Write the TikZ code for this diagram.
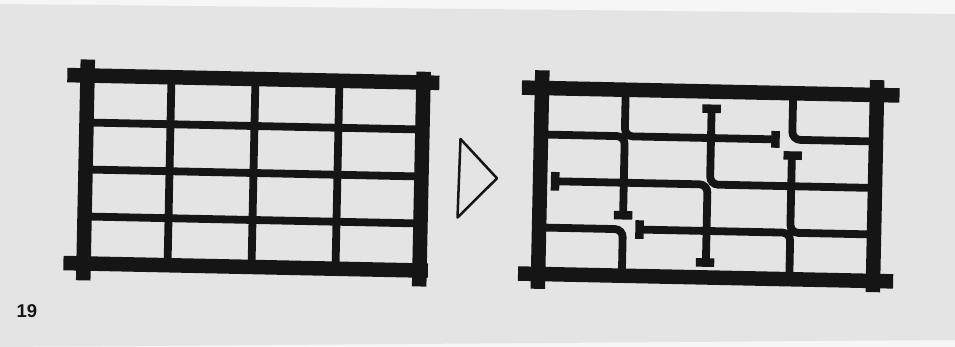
\documentclass[tikz,border=0pt]{standalone}
\usepackage{fontspec}
\setmainfont{Liberation Sans}
\definecolor{paper}{HTML}{E4E4E4}
\definecolor{margin}{HTML}{F6F6F6}
\definecolor{ink}{HTML}{151515}
\tikzset{
  frame/.style={ink, line width=14.5pt},
  bar/.style={ink, line width=7.8pt, rounded corners=8pt},
  capbar/.style={ink, line width=8.5pt},
}
\begin{document}
\begin{tikzpicture}[x=1pt,y=-1pt]
\useasboundingbox (0,0) rectangle (955,347);
\fill[margin] (0,0) rectangle (955,347);
\fill[paper] (0,4) -- (955,14) -- (955,340) -- (0,347) -- cycle;

% left grid
\begin{scope}[shift={(87.5,75.5)}, rotate=-1.2, x={(84pt,0pt)}, y={(0pt,-47pt)}]
  \foreach \i in {1,2,3} {
    \draw[bar] (\i,0) -- (\i,4);
    \draw[bar] (0,\i) -- (4,\i);
  }
  \draw[frame] (-0.24,0) -- (4.19,0);
  \draw[frame] (-0.24,4) -- (4.1,4);
  \draw[frame] (0,-0.34) -- (0,4.36);
  \draw[frame] (4,-0.23) -- (4,4.34);
\end{scope}

% arrow
\draw[ink, line width=2.5pt, line join=round] (460.5,139) -- (497,178.3) -- (457.5,217.5) -- cycle;

% right grid
\begin{scope}[shift={(542,88)}, rotate=-1.2, x={(83.75pt,0pt)}, y={(0pt,-46.5pt)}]
  \draw[bar] (1,0) -- (1,1) -- (2.8,1);
  \draw[capbar] (2.8,0.82) -- (2.8,1.18);
  \draw[bar] (3,0) -- (3,1) -- (4,1);
  \draw[bar] (0,1) -- (1,1) -- (1,2.7);
  \draw[capbar] (0.89,2.7) -- (1.11,2.7);
  \draw[bar] (2.03,0.37) -- (2.03,2) -- (4,2);
  \draw[capbar] (1.92,0.37) -- (2.14,0.37);
  \draw[bar] (3,1.34) -- (3,3) -- (4,3);
  \draw[capbar] (2.9,1.34) -- (3.12,1.34);
  \draw[bar] (0.18,2) -- (2,2) -- (2,3.68);
  \draw[capbar] (0.18,1.8) -- (0.18,2.2);
  \draw[capbar] (1.88,3.68) -- (2.1,3.68);
  \draw[bar] (1.2,3) -- (3,3) -- (3,4);
  \draw[capbar] (1.2,2.8) -- (1.2,3.2);
  \draw[bar] (0,3) -- (1,3) -- (1,4);
  \draw[frame] (-0.24,0) -- (4.27,0);
  \draw[frame] (-0.24,4) -- (4.24,4);
  \draw[frame] (0,-0.38) -- (0,4.32);
  \draw[frame] (4,-0.32) -- (4,4.24);
\end{scope}

\node[ink, font=\bfseries\fontsize{18.5}{18.5}\selectfont, anchor=base west, inner sep=0pt] (num) at (16.5,317) {19};
\end{tikzpicture}
\end{document}
